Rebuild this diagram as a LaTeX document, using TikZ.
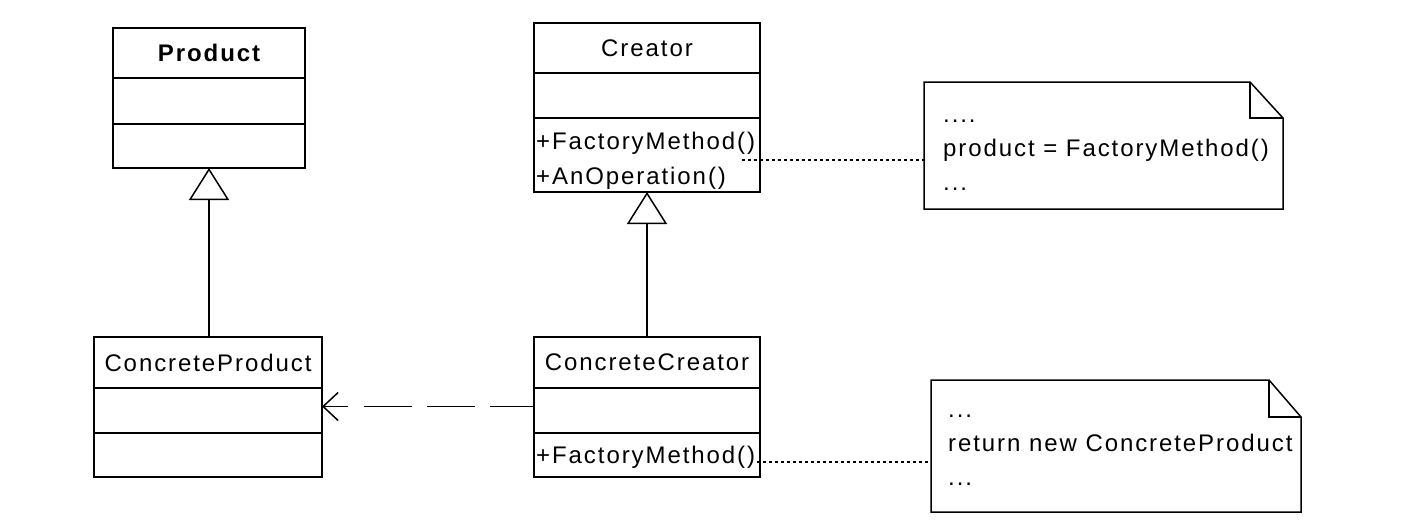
\documentclass[tikz,border=0pt]{standalone}
\usepackage{fontspec}
\setmainfont{Liberation Sans}[LetterSpace=8]
\usetikzlibrary{arrows.meta}
\begin{document}
\begin{tikzpicture}[x=1pt,y=-1pt,
  box/.style={draw,line width=1.5pt,inner sep=0pt,outer sep=0pt,
    font=\fontsize{24}{35}\selectfont},
  opstext/.style={anchor=west,align=left,inner xsep=2pt,inner ysep=0pt,
    font=\fontsize{24}{35}\selectfont},
  notebox/.style={inner sep=0pt,outer sep=0pt},
  notetext/.style={anchor=west,align=left,inner sep=0pt,
    font=\fontsize{24}{34}\selectfont},
  noteline/.style={line width=1.5pt,line join=miter},
  gen/.style={line width=1.5pt,-{Triangle[open,length=32pt,width=40pt,line width=1.5pt]}},
  dep/.style={line width=1.5pt,dash pattern=on 44pt off 15pt on 48pt off 15pt on 48pt off 16pt on 60pt off 1pt,
    -{Straight Barb[length=15pt,width=28pt,line width=1.5pt]}},
  dotline/.style={line width=1.5pt,dash pattern=on 3pt off 3pt}]
\useasboundingbox (0,0) rectangle (1404,530);
\fill[white] (0,0) rectangle (1404,530);

% Product
\node[box,minimum width=192pt,minimum height=50pt,font=\fontsize{24}{35}\selectfont\bfseries] (prodhead) at (209,53) {Product};
\node[box,minimum width=192pt,minimum height=46pt] (prodattr) at (209,101) {};
\node[box,minimum width=192pt,minimum height=44pt] (prodops) at (209,146) {};

% ConcreteProduct
\node[box,minimum width=228pt,minimum height=51pt] (cphead) at (208,362.5) {ConcreteProduct};
\node[box,minimum width=228pt,minimum height=45pt] (cpattr) at (208,410.5) {};
\node[box,minimum width=228pt,minimum height=44pt] (cpops) at (208,455) {};

% Creator
\node[box,minimum width=226pt,minimum height=50pt] (crhead) at (647,48) {Creator};
\node[box,minimum width=226pt,minimum height=45pt] (crattr) at (647,95.5) {};
\node[box,minimum width=226pt,minimum height=74pt] (crops) at (647,155) {};
\node[opstext] (croptext) at ([yshift=-6pt]crops.west) {+FactoryMethod()\\+AnOperation()};

% ConcreteCreator
\node[box,minimum width=226pt,minimum height=51pt] (cchead) at (647,362.5) {ConcreteCreator};
\node[box,minimum width=226pt,minimum height=45pt] (ccattr) at (647,410.5) {};
\node[box,minimum width=226pt,minimum height=44pt] (ccops) at (647,455) {};
\node[opstext] (ccoptext) at ([yshift=-2pt]ccops.west) {+FactoryMethod()};

% Notes
\node[notebox,minimum width=359pt,minimum height=127pt] (note1) at (1103.5,145.5) {};
\draw[noteline] (note1.north west) -- ([xshift=-33pt]note1.north east) -- ([yshift=-36pt]note1.north east) -- (note1.south east) -- (note1.south west) -- cycle;
\draw[noteline] ([xshift=-33pt]note1.north east) |- ([yshift=-36pt]note1.north east);
\node[notetext] (note1text) at ([xshift=19pt,yshift=-9.5pt]note1.west) {....\\product = FactoryMethod()\\...};

\node[notebox,minimum width=370pt,minimum height=132pt] (note2) at (1116,446) {};
\draw[noteline] (note2.north west) -- ([xshift=-32pt]note2.north east) -- ([yshift=-37pt]note2.north east) -- (note2.south east) -- (note2.south west) -- cycle;
\draw[noteline] ([xshift=-32pt]note2.north east) |- ([yshift=-37pt]note2.north east);
\node[notetext] (note2text) at ([xshift=17pt,yshift=-4pt]note2.west) {...\\return new ConcreteProduct\\...};

% Connectors
\draw[gen] (cphead.north -| prodops.south) -- (prodops.south);
\draw[gen] (cchead.north) -- (crops.south);
\draw[dep] ([yshift=4pt]ccattr.west) -- ([yshift=4pt]cpattr.east);
\coordinate (d1) at (742,160);
\draw[dotline] (d1) -- (d1 -| note1.west);
\coordinate (d2) at (757,462);
\draw[dotline] (d2) -- (d2 -| note2.west);
\end{tikzpicture}
\end{document}
